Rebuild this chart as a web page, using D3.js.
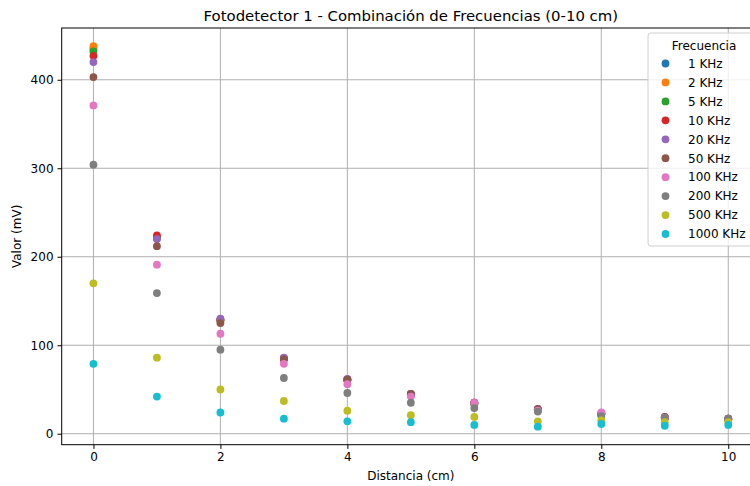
<!DOCTYPE html>
<html>
<head>
<meta charset="utf-8">
<script src="https://cdn.jsdelivr.net/npm/d3@7"></script>
<style>
  html, body { margin: 0; padding: 0; background: #fff; }
  svg { display: block; font-family: "DejaVu Sans", sans-serif; }
</style>
</head>
<body>
<svg id="chart" width="750" height="486"></svg>
<script>
// Distance from the photodetector (cm)
const distances = [0, 1, 2, 3, 4, 5, 6, 7, 8, 9, 10];

// Frequency labels, one series each
const frequencies = ["1 KHz", "2 KHz", "5 KHz", "10 KHz", "20 KHz", "50 KHz", "100 KHz", "200 KHz", "500 KHz", "1000 KHz"];

// Measured value (mV) per frequency, indexed by distance
const v1k    = [435, 221, 128, 85, 61, 44, 34, 27, 22, 18, 16];
const v2k    = [438, 222, 128, 85, 61, 44, 34, 27, 22, 18, 16];
const v5k    = [432, 222, 129, 85, 61, 44, 34, 27, 22, 18, 16];
const v10k   = [427, 224, 129, 85, 61, 45, 35, 27, 23, 18, 17];
const v20k   = [420, 220, 130, 86, 62, 45, 35, 28, 23, 19, 17];
const v50k   = [403, 212, 125, 84, 61, 45, 35, 28, 23, 19, 17];
const v100k  = [371, 191, 113, 79, 56, 42, 35, 26, 24, 18, 16];
const v200k  = [304, 159, 95, 63, 46, 35, 29, 25, 20, 18, 17];
const v500k  = [170, 86, 50, 37, 26, 21, 19, 14, 15, 13, 13];
const v1000k = [79, 42, 24, 17, 14, 13, 10, 8, 11, 9, 10];

const seriesValues = [v1k, v2k, v5k, v10k, v20k, v50k, v100k, v200k, v500k, v1000k];

const xTicks = [0, 2, 4, 6, 8, 10];
const yTicks = [0, 100, 200, 300, 400];

const colors = ["#1f77b4", "#ff7f0e", "#2ca02c", "#d62728", "#9467bd",
                "#8c564b", "#e377c2", "#7f7f7f", "#bcbd22", "#17becf"];

const svg = d3.select("#chart");
const plotLeft = 61.7, plotRight = 760, plotTop = 28, plotBottom = 444.7;

const x = d3.scaleLinear().domain([-0.5, 10.5]).range([plotLeft, plotRight]);
const y = d3.scaleLinear().domain([-12.4, 458.5]).range([plotBottom, plotTop]);

const tickFont = 12;

// Grid
const grid = svg.append("g");
grid.selectAll("line.gx").data(xTicks).join("line")
  .attr("x1", d => x(d)).attr("x2", d => x(d))
  .attr("y1", plotTop).attr("y2", plotBottom)
  .attr("stroke", "#b0b0b0").attr("stroke-width", 1);
grid.selectAll("line.gy").data(yTicks).join("line")
  .attr("x1", plotLeft).attr("x2", plotRight)
  .attr("y1", d => y(d)).attr("y2", d => y(d))
  .attr("stroke", "#b0b0b0").attr("stroke-width", 1);

// Axes
const xAxis = d3.axisBottom(x).tickValues(xTicks).tickSize(4.2).tickPadding(4).tickFormat(d3.format("d"));
const yAxis = d3.axisLeft(y).tickValues(yTicks).tickSize(4.2).tickPadding(4).tickFormat(d3.format("d"));

const gx = svg.append("g").attr("transform", `translate(0,${plotBottom})`).call(xAxis);
const gy = svg.append("g").attr("transform", `translate(${plotLeft},0)`).call(yAxis);
[gx, gy].forEach(g => {
  g.select(".domain").remove();
  g.selectAll(".tick line").attr("stroke", "#000").attr("stroke-width", 1);
  g.selectAll(".tick text").attr("fill", "#000").attr("font-size", tickFont)
    .attr("font-family", "DejaVu Sans, sans-serif");
});

// Points
const pts = svg.append("g");
seriesValues.forEach((vals, i) => {
  pts.selectAll(null).data(vals).join("circle")
    .attr("cx", (d, j) => x(distances[j]))
    .attr("cy", d => y(d))
    .attr("r", 3.9)
    .attr("fill", colors[i]);
});

// Frame
svg.append("rect")
  .attr("x", plotLeft).attr("y", plotTop)
  .attr("width", plotRight - plotLeft).attr("height", plotBottom - plotTop)
  .attr("fill", "none").attr("stroke", "#000").attr("stroke-width", 1);

// Title and labels
svg.append("text").attr("x", (plotLeft + plotRight) / 2).attr("y", 21)
  .attr("text-anchor", "middle").attr("font-size", 14.9)
  .text("Fotodetector 1 - Combinación de Frecuencias (0-10 cm)");
svg.append("text").attr("x", (plotLeft + plotRight) / 2).attr("y", 480)
  .attr("text-anchor", "middle").attr("font-size", tickFont)
  .text("Distancia (cm)");
svg.append("text")
  .attr("transform", `translate(21,${(plotTop + plotBottom) / 2}) rotate(-90)`)
  .attr("text-anchor", "middle").attr("font-size", tickFont)
  .text("Valor (mV)");

// Legend
const lg = svg.append("g");
lg.append("rect").attr("x", 648).attr("y", 33).attr("width", 106).attr("height", 213)
  .attr("rx", 3).attr("fill", "#fff").attr("fill-opacity", 0.8)
  .attr("stroke", "#d0d0d0").attr("stroke-width", 1);
lg.append("text").attr("x", 704).attr("y", 49.5).attr("text-anchor", "middle")
  .attr("font-size", tickFont).text("Frecuencia");
const rowY = d3.scaleLinear().domain([0, 9]).range([63.5, 234]);
const rows = lg.selectAll("g.row").data(frequencies).join("g")
  .attr("transform", (d, i) => `translate(0,${rowY(i)})`);
rows.append("circle").attr("cx", 665.5).attr("cy", 0).attr("r", 3.9)
  .attr("fill", (d, i) => colors[i]);
rows.append("text").attr("x", 688).attr("y", 4.3).attr("font-size", tickFont).text(d => d);
</script>
</body>
</html>
